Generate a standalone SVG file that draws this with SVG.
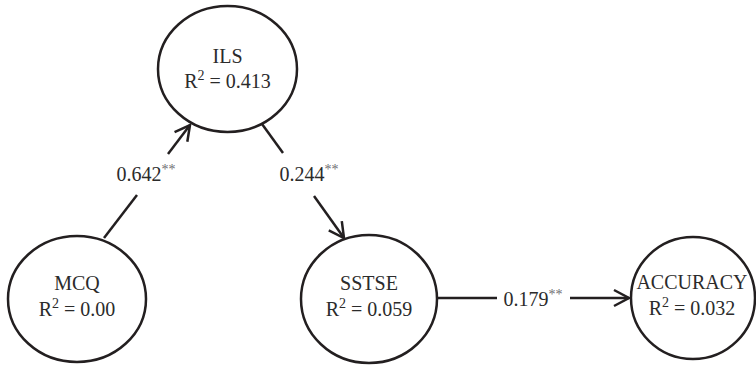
<svg xmlns="http://www.w3.org/2000/svg" width="756" height="366" viewBox="0 0 756 366">
  <style>
    .node { fill: #ffffff; stroke: #231f20; stroke-width: 2.5; }
    .lbl { font-family: "Liberation Serif", "Times New Roman", serif; font-size: 20px; fill: #2b2b2b; text-anchor: middle; }
    .sup { font-size: 14px; }
    .edge { stroke: #231f20; stroke-width: 2.5; fill: none; }
    .elbl { font-family: "Liberation Serif", "Times New Roman", serif; font-size: 20px; fill: #2b2b2b; text-anchor: middle; }
    .ast { font-size: 14px; fill: #6d6e71; }
  </style>
  <defs>
    <marker id="arr" markerUnits="userSpaceOnUse" markerWidth="24" markerHeight="24" viewBox="-18 -12 24 24" refX="0" refY="0" orient="auto">
      <path d="M-15,-8 L0,0 L-15,8" fill="none" stroke="#231f20" stroke-width="2.5" stroke-linejoin="miter"/>
    </marker>
  </defs>
  <rect width="756" height="366" fill="#ffffff"/>

  <g id="connectors">
    <g id="e-mcq-ils">
      <line class="edge" x1="104" y1="238" x2="137" y2="195"/>
      <line class="edge" x1="168" y1="154" x2="190" y2="125" marker-end="url(#arr)"/>
      <text class="elbl" x="146" y="181">0.642<tspan class="ast" dy="-7">**</tspan></text>
    </g>
    <g id="e-ils-sstse">
      <line class="edge" x1="262" y1="124" x2="283" y2="153"/>
      <line class="edge" x1="314" y1="196" x2="344" y2="238" marker-end="url(#arr)"/>
      <text class="elbl" x="309" y="181">0.244<tspan class="ast" dy="-7">**</tspan></text>
    </g>
    <g id="e-sstse-acc">
      <line class="edge" x1="437" y1="298" x2="497" y2="298"/>
      <line class="edge" x1="570" y1="298" x2="629" y2="298" marker-end="url(#arr)"/>
      <text class="elbl" x="533" y="306">0.179<tspan class="ast" dy="-7">**</tspan></text>
    </g>
  </g>

  <g id="ILS">
    <ellipse class="node" cx="227.5" cy="69" rx="69.5" ry="63"/>
    <text class="lbl" x="227.5" y="63">ILS</text>
    <text class="lbl" x="227.5" y="88">R<tspan class="sup" dy="-8">2</tspan><tspan dy="8"> = 0.413</tspan></text>
  </g>
  <g id="MCQ">
    <ellipse class="node" cx="77" cy="299" rx="69" ry="63"/>
    <text class="lbl" x="77" y="290">MCQ</text>
    <text class="lbl" x="77" y="316">R<tspan class="sup" dy="-8">2</tspan><tspan dy="8"> = 0.00</tspan></text>
  </g>
  <g id="SSTSE">
    <ellipse class="node" cx="369" cy="299" rx="68" ry="64"/>
    <text class="lbl" x="369" y="290">SSTSE</text>
    <text class="lbl" x="369" y="316">R<tspan class="sup" dy="-8">2</tspan><tspan dy="8"> = 0.059</tspan></text>
  </g>
  <g id="ACCURACY">
    <ellipse class="node" cx="693" cy="298" rx="62" ry="61"/>
    <text class="lbl" x="692" y="289">ACCURACY</text>
    <text class="lbl" x="692" y="315">R<tspan class="sup" dy="-8">2</tspan><tspan dy="8"> = 0.032</tspan></text>
  </g>
</svg>
